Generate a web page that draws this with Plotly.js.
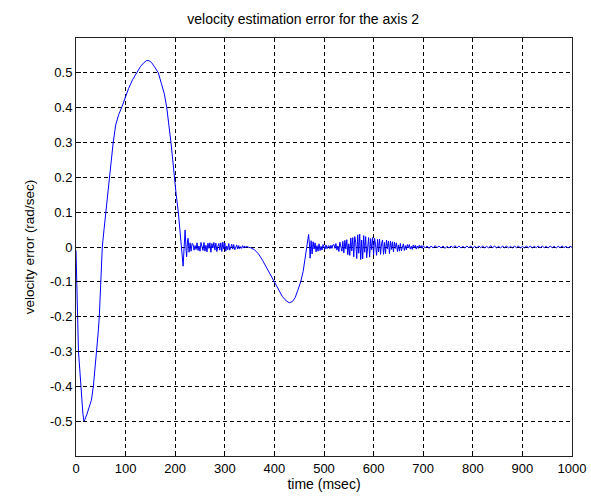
<!DOCTYPE html>
<html>
<head>
<meta charset="utf-8">
<script src="https://cdn.plot.ly/plotly-3.0.1.min.js"></script>
<style>html,body{margin:0;padding:0;background:#fff;}#chart{width:591px;height:501px;}</style>
</head>
<body>
<div id="chart"></div>
<script>
// Smooth start: big swing (time ms, error rad/sec)
const tStart = [0,1,2,3,5,7.5,9.5,12,14,16,18,22,27,31,35,38.5,41.7,44.5,47,50,53,56.5,60,63.5,67,71,75,80,86,92,99,106,114,122,130,136,142,147,152,158,166,172,178,183,187,191.5,195,198.2,202,206.3,209,211.7,214,216,218,220,222,223,225,226,228,230,232,234];
const vStart = [-0.01,-0.08,-0.15,-0.25,-0.3,-0.35,-0.4,-0.45,-0.48,-0.5,-0.495,-0.48,-0.46,-0.44,-0.4,-0.35,-0.3,-0.25,-0.2,-0.1,0,0.05,0.1,0.15,0.2,0.25,0.3,0.35,0.38,0.4,0.43,0.455,0.48,0.5,0.518,0.528,0.535,0.535,0.53,0.518,0.5,0.47,0.44,0.4,0.36,0.3,0.25,0.2,0.15,0.1,0.05,0,-0.03,-0.055,0,0.049,-0.01,-0.028,0.02,0.025,-0.015,0.012,-0.012,0.01];

// Noise band 236..344 ms, sampled every 2 ms
const noise1Start = 236, noise1Step = 2;
const noise1 = [0.008,-0.009,0.004,-0.007,0.012,-0.010,0.003,-0.012,0.013,0.002,
  -0.010,0.013,-0.012,0.005,-0.014,0.011,-0.004,0.012,-0.015,0.010,
  -0.003,0.013,-0.009,0.011,-0.013,0.002,0.010,-0.009,0.012,-0.013,
  0.014,-0.006,0.011,-0.012,0.003,-0.008,0.010,-0.009,0.002,0.008,
  -0.006,0.007,-0.008,0.002,0.006,-0.006,0.004,-0.005,0.001,-0.004,
  0.004,-0.003,0.003,-0.002,0.002];

// Smooth dip around 430 ms
const tDip = [348,352,360,368,376,384,392,400,408,416,424,430,436,442,447,453,458,462,465,467,469,471,472];
const vDip = [-0.001,-0.002,-0.008,-0.02,-0.038,-0.058,-0.08,-0.1,-0.122,-0.142,-0.155,-0.16,-0.157,-0.145,-0.125,-0.1,-0.07,-0.035,0,0.02,0.036,0,-0.032];

// Noise 474..518 ms
const noise2Start = 474, noise2Step = 2;
const noise2 = [0.018,-0.02,0.015,-0.006,0.012,-0.014,0.004,-0.012,0.009,-0.01,
  0.002,-0.009,0.007,0.001,-0.006,0.006,-0.005,0.002,0.004,-0.005,
  0.005,-0.004,0.006];

// Noise burst 520..698 ms
const noise3Start = 520, noise3Step = 2;
const noise3 = [0.007,-0.004,0.01,-0.009,0.003,-0.013,0.014,0.004,-0.012,0.016,
  -0.017,0.019,-0.006,0.021,-0.022,0.009,-0.024,0.026,-0.011,0.027,
  -0.028,0.03,0.012,-0.033,0.035,-0.018,0.037,-0.036,0.02,-0.034,
  0.033,-0.015,0.03,-0.031,0.01,0.027,-0.029,0.024,-0.008,0.027,
  -0.023,0.025,0.006,-0.024,0.022,-0.014,0.023,-0.021,0.009,0.02,
  -0.021,0.013,-0.019,0.02,-0.005,0.017,-0.019,0.016,-0.007,0.015,
  -0.014,0.014,-0.004,0.012,-0.013,0.006,-0.012,0.01,-0.011,0.003,
  0.009,-0.01,0.004,-0.008,0.007,-0.003,0.007,-0.006,0.002,-0.007,
  0.006,-0.002,0.005,-0.006,0.003,-0.004,0.005,-0.001,0.004,-0.004];

// Residual noise 700..1000 ms, every 4 ms
const noise4Start = 700, noise4Step = 4;
const noise4 = [0.004,-0.003,0.003,-0.004,0.003,-0.003,0.004,-0.002,0.003,-0.003,
  0.003,-0.004,0.002,-0.003,0.003,-0.002,0.004,-0.003,0.003,-0.003,
  0.002,-0.003,0.003,-0.002,0.003,-0.003,0.002,-0.003,0.003,-0.002,
  0.003,-0.003,0.002,-0.003,0.004,-0.002,0.003,-0.003,0.002,-0.003,
  0.003,-0.002,0.003,-0.003,0.002,-0.003,0.003,-0.002,0.003,-0.003,
  0.002,-0.003,0.003,-0.002,0.003,-0.003,0.002,-0.002,0.003,-0.003,
  0.003,-0.002,0.002,-0.003,0.003,-0.002,0.002,-0.003,0.002,-0.002,
  0.003,-0.002,0.002,-0.003,0.002,-0.001];

const xTickVals = [0,100,200,300,400,500,600,700,800,900,1000];
const yTickVals = [-0.5,-0.4,-0.3,-0.2,-0.1,0,0.1,0.2,0.3,0.4,0.5];
const yTickText = ['-0.5','-0.4','-0.3','-0.2','-0.1','0','0.1','0.2','0.3','0.4','0.5'];

const t = [], v = [];
function addPairs(ts, vs){ for (let i=0;i<ts.length;i++){ t.push(ts[i]); v.push(vs[i]); } }
function addSampled(t0, dt, vs){ for (let i=0;i<vs.length;i++){ t.push(t0 + i*dt); v.push(vs[i]); } }
addPairs(tStart, vStart);
addSampled(noise1Start, noise1Step, noise1);
addPairs(tDip, vDip);
addSampled(noise2Start, noise2Step, noise2);
addSampled(noise3Start, noise3Step, noise3);
addSampled(noise4Start, noise4Step, noise4);

const fam = 'Liberation Sans, Arial, sans-serif';
const tickFont = {family: fam, size: 13, color: '#000'};

Plotly.newPlot('chart', [{
  x: t, y: v, type: 'scatter', mode: 'lines',
  line: {color: '#0000ff', width: 1},
  hoverinfo: 'skip'
}], {
  width: 591, height: 501,
  margin: {l: 76, r: 19, t: 38, b: 45},
  paper_bgcolor: '#fff', plot_bgcolor: '#fff',
  showlegend: false,
  font: tickFont,
  title: {text: 'velocity estimation error for the axis 2', font: {family: fam, size: 14, color: '#000'},
          x: 0.513, xref: 'container', xanchor: 'center', y: 0.962, yref: 'container', yanchor: 'middle'},
  xaxis: {
    range: [0, 1000], tickvals: xTickVals, ticktext: xTickVals.map(String),
    showgrid: true, gridcolor: '#000', griddash: '4px,3px', gridwidth: 1,
    zeroline: false, showline: true, linecolor: '#222', linewidth: 1, mirror: true,
    ticks: 'inside', ticklen: 5, tickcolor: '#000',
    tickfont: tickFont,
    title: {text: 'time (msec)', font: {family: fam, size: 14, color: '#000'}, standoff: 4},
    automargin: false
  },
  yaxis: {
    range: [-0.6, 0.6], tickvals: yTickVals, ticktext: yTickText,
    showgrid: true, gridcolor: '#000', griddash: '4px,3px', gridwidth: 1,
    zeroline: false, showline: true, linecolor: '#222', linewidth: 1, mirror: true,
    ticks: 'inside', ticklen: 5, tickcolor: '#000',
    tickfont: tickFont,
    title: {text: 'velocity error (rad/sec)', font: {family: fam, size: 13.5, color: '#000'}, standoff: 12},
    automargin: false
  }
}, {displayModeBar: false, staticPlot: true});
</script>
</body>
</html>
